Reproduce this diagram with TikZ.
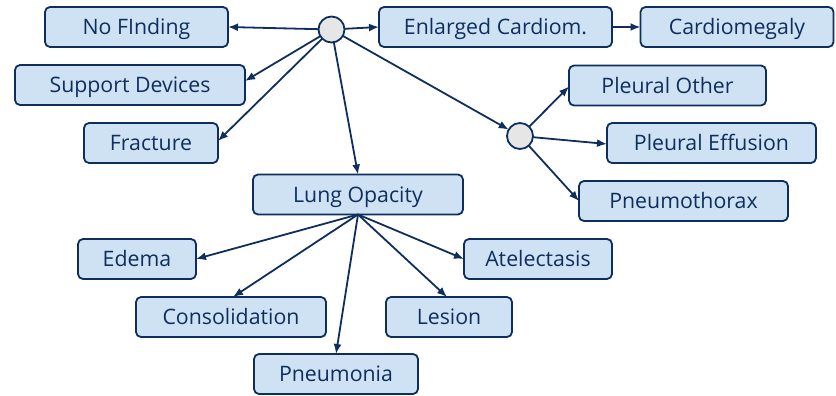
\documentclass[tikz,border=0pt]{standalone}
\usepackage{fontspec}
\setmainfont{Open Sans}
\usetikzlibrary{arrows.meta,calc}
\definecolor{navy}{HTML}{0E2F5E}
\definecolor{boxfill}{HTML}{CFE2F3}
\definecolor{dotfill}{HTML}{E6E6E6}
\begin{document}
\begin{tikzpicture}[x=1pt,y=-1pt,
  lbl/.style={draw=navy,line width=1.8pt,fill=boxfill,rounded corners=5pt,
    minimum height=40pt,inner sep=0pt,outer sep=0pt,text=navy,
    text height=15.2pt,text depth=0pt,
    font=\fontsize{21.3}{25}\selectfont},
  dot/.style={circle,draw=navy,line width=1.8pt,fill=dotfill,minimum size=26pt,inner sep=0pt,outer sep=0pt},
  arr/.style={draw=navy,line width=1.8pt,-{Latex[length=10pt,width=8pt]}}]
\useasboundingbox (0,0) rectangle (836,396);
\node[lbl,minimum width=183pt] (nofind) at (136.5,27) {No FInding};
\node[lbl,minimum width=230pt] (support) at (130,85) {Support Devices};
\node[lbl,minimum width=134pt] (fracture) at (151,143) {Fracture};
\node[dot] (c1) at (331.5,29.5) {};
\node[lbl,minimum width=233pt] (enlarged) at (495.5,27) {Enlarged Cardiom.};
\node[lbl,minimum width=193pt] (cardio) at (737,27) {Cardiomegaly};
\node[lbl,minimum width=197pt] (plother) at (667.5,85.5) {Pleural Other};
\node[lbl,minimum width=209pt] (pleff) at (711.5,143) {Pleural Effusion};
\node[lbl,minimum width=209pt] (pneumo) at (683.5,201) {Pneumothorax};
\node[dot] (c2) at (520,136) {};
\node[lbl,minimum width=210pt] (lung) at (358,194.5) {Lung Opacity};
\node[lbl,minimum width=118pt] (edema) at (137,259) {Edema};
\node[lbl,minimum width=190pt] (consol) at (231,317) {Consolidation};
\node[lbl,minimum width=164pt] (pneumonia) at (336,374) {Pneumonia};
\node[lbl,minimum width=126pt] (lesion) at (449,317) {Lesion};
\node[lbl,minimum width=148pt] (atel) at (538,259) {Atelectasis};
\draw[arr] (c1) -- (nofind.east);
\draw[arr] (c1) -- ($(support.east)+(0,-4)$);
\draw[arr] (c1) -- ($(fracture.east)+(0,-2)$);
\draw[arr] (c1) -- (lung.north);
\draw[arr] (c1) -- (enlarged.west);
\draw[arr] (c1) -- (c2);
\draw[arr] (enlarged) -- (cardio);
\draw[arr] (c2) -- ($(plother.west)+(0,1)$);
\draw[arr] (c2) -- ($(pleff.west)+(0,1)$);
\draw[arr] (c2) -- (pneumo.west);
\draw[arr] (lung.south) -- (edema.east);
\draw[arr] (lung.south) -- ($(consol.north)+(2,0)$);
\draw[arr] (lung.south) -- (pneumonia.north);
\draw[arr] (lung.south) -- ($(lesion.north)+(-2,0)$);
\draw[arr] (lung.south) -- (atel.west);
\end{tikzpicture}
\end{document}
